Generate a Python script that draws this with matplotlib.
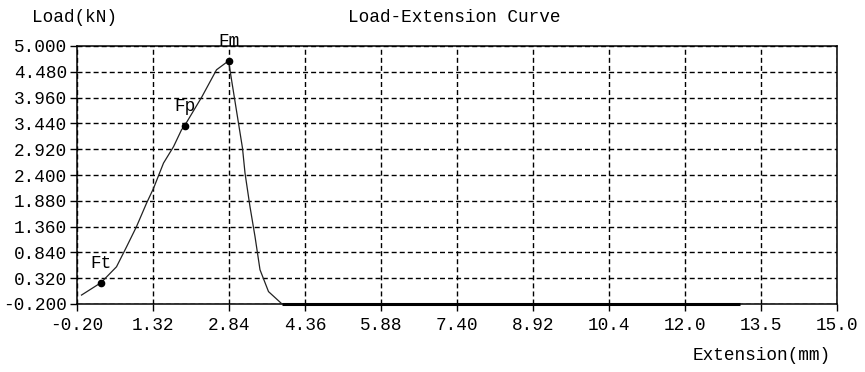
import matplotlib
matplotlib.use("Agg")
import matplotlib.pyplot as plt
import numpy as np

# Data
extension = [-0.11, 0.28, 0.59, 0.79, 0.99, 1.19, 1.33, 1.53, 1.73, 1.89, 1.95,
             2.30, 2.59, 2.83, 3.11, 3.16, 3.26, 3.36, 3.46, 3.63, 3.89]
load = [-0.02, 0.23, 0.55, 0.95, 1.36, 1.83, 2.13, 2.64, 2.97, 3.31, 3.39,
        3.98, 4.52, 4.70, 2.94, 2.44, 1.76, 1.16, 0.49, 0.05, -0.19]
tail_ext = [3.89, 13.06]
tail_load = [-0.195, -0.195]

point_names = ["Ft", "Fp", "Fm"]
point_ext = [0.28, 1.95, 2.83]
point_load = [0.23, 3.39, 4.70]

xticks = [-0.20, 1.32, 2.84, 4.36, 5.88, 7.40, 8.92, 10.44, 11.96, 13.48, 15.0]
xtick_labels = ["-0.20", "1.32", "2.84", "4.36", "5.88", "7.40", "8.92", "10.4", "12.0", "13.5", "15.0"]
yticks = [-0.20, 0.32, 0.84, 1.36, 1.88, 2.40, 2.92, 3.44, 3.96, 4.48, 5.00]
ytick_labels = ["-0.200", "0.320", "0.840", "1.360", "1.880", "2.400", "2.920", "3.440", "3.960", "4.480", "5.000"]

plt.rcParams['font.family'] = ['Liberation Mono', 'DejaVu Sans Mono']
plt.rcParams['lines.scale_dashes'] = False
FS = 12.8

fig = plt.figure(figsize=(8.65, 3.72), dpi=100)
ax = fig.add_axes([77/865, 1-304/372, (837-77)/865, (304-46)/372])

ax.set_xlim(-0.2, 15.0)
ax.set_ylim(-0.2, 5.0)
ax.set_xticks(xticks)
ax.set_xticklabels(xtick_labels)
ax.set_yticks(yticks)
ax.set_yticklabels(ytick_labels)
ax.tick_params(axis='both', direction='out', length=5, width=1, colors='black',
               labelsize=FS, pad=2)
ax.tick_params(axis='x', pad=4)

ax.grid(True, color='black', linewidth=1.0, linestyle=(0, (3.6, 2.2)))
for s in ax.spines.values():
    s.set_linewidth(1.1)
    s.set_color('black')

ax.plot(extension, load, color='#222222', linewidth=0.9, zorder=3)
ax.plot(tail_ext, tail_load, color='black', linewidth=2.2, zorder=3, clip_on=False,
        solid_capstyle='butt')
ax.plot(point_ext, point_load, 'o', color='black', markersize=4.5, zorder=4)
for name, px, py in zip(point_names, point_ext, point_load):
    ax.annotate(name, (px, py), xytext=(0, 19), textcoords='offset pixels',
                ha='center', va='center', fontsize=FS, zorder=5, annotation_clip=False)

fig.text(75/865, 1-17/372, "Load(kN)", ha='center', va='center', fontsize=FS)
fig.text(454/865, 1-17/372, "Load-Extension Curve", ha='center', va='center', fontsize=FS)
fig.text(831/865, 1-355/372, "Extension(mm)", ha='right', va='center', fontsize=FS)

fig.savefig("out.png", dpi=100)
